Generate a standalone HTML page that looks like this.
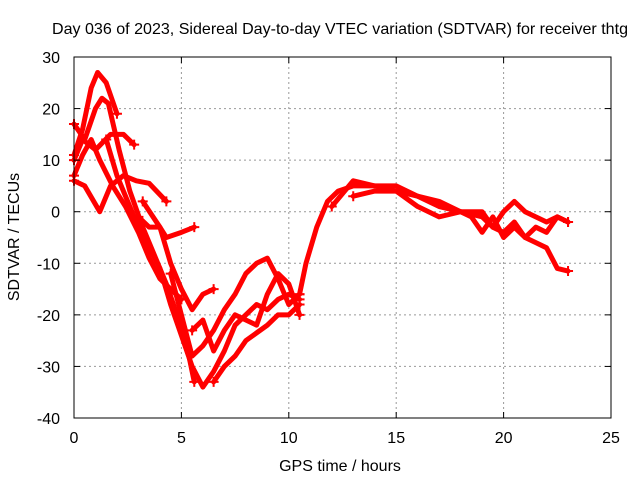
<!DOCTYPE html>
<html><head><meta charset="utf-8"><style>
body{margin:0;background:#fff}
svg{display:block;font-family:"Liberation Sans",sans-serif}
</style></head><body>
<svg id="c" width="640" height="480">
<rect width="640" height="480" fill="#fff"/>
<g id="grid"></g>
<g id="marks"></g>
<rect x="74" y="57" width="537" height="361" fill="none" stroke="#000"/>
<g id="ticks"></g>
<text x="340" y="34" text-anchor="middle" font-size="16" textLength="576" lengthAdjust="spacingAndGlyphs">Day 036 of 2023, Sidereal Day-to-day VTEC variation (SDTVAR) for receiver thtg</text>
<text x="340" y="471" text-anchor="middle" font-size="16">GPS time / hours</text>
<text transform="translate(19,237) rotate(-90)" text-anchor="middle" font-size="16">SDTVAR / TECUs</text>
</svg>
<script>
const xTicks=[0,5,10,15,20,25];
const yTicks=[30,20,10,0,-10,-20,-30,-40];
const t1=[[0,11],[0.4,16],[0.8,24],[1.1,27],[1.5,25],[2,19]];
const t2=[[0,17],[0.5,14],[1,20],[1.3,22],[1.6,21],[2.1,12],[2.6,4],[3.2,-3],[3.7,-8],[4.3,-14],[4.8,-20],[5.3,-27],[5.6,-33]];
const t3=[[0,10],[0.4,14],[1,12],[1.7,15],[2.3,15],[2.8,13]];
const t4=[[0,6],[0.5,5],[1.2,0],[1.7,5],[2.3,7],[2.9,6],[3.5,5.5],[4.3,2]];
const t5=[[0,7],[0.4,11],[0.8,14],[1.2,10],[1.8,5],[2.4,1],[3,-4],[3.5,-9],[4,-13],[4.5,-15],[5,-17]];
const t6=[[1.5,14],[2,7],[2.5,2],[3,-3],[3.5,-7],[4,-11],[4.5,-18],[5,-24],[5.5,-30],[6,-34],[6.5,-31],[7,-27],[7.5,-22],[8,-20],[8.5,-18],[9,-19],[9.5,-17],[10,-16],[10.5,-17]];
const t7=[[3,-1],[3.5,-3],[4,-3],[4.3,-5],[5,-4],[5.6,-3]];
const t8=[[3.2,2],[4,-3],[4.5,-10],[5,-15],[5.5,-19],[6,-16],[6.5,-15]];
const t9=[[4.5,-12],[5,-20],[5.5,-28],[6,-26],[6.5,-23],[7,-19],[7.5,-16],[8,-12],[8.5,-10],[9,-9],[9.5,-13],[10,-18],[10.5,-16]];
const t10=[[5.5,-23],[6,-21],[6.5,-27],[7,-23],[7.5,-20],[8.5,-22],[9,-16],[9.5,-12],[10,-14],[10.5,-20]];
const t11=[[6.5,-33],[7,-30],[7.5,-28],[8,-25],[9,-22],[9.5,-20],[10,-20],[10.5,-18]];
const t12=[[10.5,-16],[10.8,-10],[11.3,-3],[11.8,2],[12.3,4],[13,5],[14,5],[15,4],[16,3],[17,1],[18,0],[19,-1],[19.5,-3],[20,-4],[20.5,-2],[21,-5],[21.5,-6],[22,-7],[22.5,-11],[23,-11.5]];
const t13=[[12,1],[13,6],[14,5],[15,5],[16,3],[17,2],[18,0],[19,0],[19.5,-3],[20,0],[20.5,2],[21,0],[21.5,-1],[22,-2],[22.5,-1],[23,-2]];
const t14=[[13,3],[14,4],[15,4],[16,1],[17,-1],[18,0],[18.5,-1],[19,-4],[19.5,-1],[20,-5],[20.5,-3],[21,-5],[21.5,-3],[22,-4],[22.5,-1],[23,-2]];
const tracks=[t1,t2,t3,t4,t5,t6,t7,t8,t9,t10,t11,t12,t13,t14];
const X=v=>74+v*537/25, Y=v=>57+(30-v)*361/70;
const NS="http://www.w3.org/2000/svg";
const g=document.getElementById('grid'),tk=document.getElementById('ticks'),m=document.getElementById('marks');
function mk(tag,a,p){const e=document.createElementNS(NS,tag);for(const k in a)e.setAttribute(k,a[k]);p.appendChild(e);return e;}
xTicks.forEach(v=>{
 if(v>0&&v<25){const l=mk('line',{x1:X(v),x2:X(v),y1:57,y2:418,stroke:'#999','stroke-dasharray':'2,3'},g);
 
 }
 mk('line',{x1:X(v),x2:X(v),y1:418,y2:412,stroke:'#000'},tk);
 mk('line',{x1:X(v),x2:X(v),y1:57,y2:63,stroke:'#000'},tk);
 const t=mk('text',{x:X(v),y:443,'text-anchor':'middle','font-size':16},tk);t.textContent=v;
 
 
});
yTicks.forEach(v=>{
 if(v<30&&v>-40){const l=mk('line',{x1:74,x2:611,y1:Y(v),y2:Y(v),stroke:'#999','stroke-dasharray':'2,3'},g);
 
 }
 mk('line',{x1:74,x2:80,y1:Y(v),y2:Y(v),stroke:'#000'},tk);
 mk('line',{x1:605,x2:611,y1:Y(v),y2:Y(v),stroke:'#000'},tk);
 const t=mk('text',{x:60,y:Y(v)+6,'text-anchor':'end','font-size':16},tk);t.textContent=v;
 
 
});
tracks.forEach(tr=>{
 const p=mk('polyline',{points:tr.map(d=>X(d[0])+','+Y(d[1])).join(' '),fill:'none',stroke:'#f00','stroke-width':5,'stroke-linejoin':'round','stroke-linecap':'round'},m);
 
 
 [tr[0],tr[tr.length-1]].forEach(d=>{
  const c=mk('path',{d:`M${X(d[0])-5},${Y(d[1])}h10M${X(d[0])},${Y(d[1])-5}v10`,stroke:'#f00','stroke-width':2},m);
  
  
 });
});
</script>
</body></html>
